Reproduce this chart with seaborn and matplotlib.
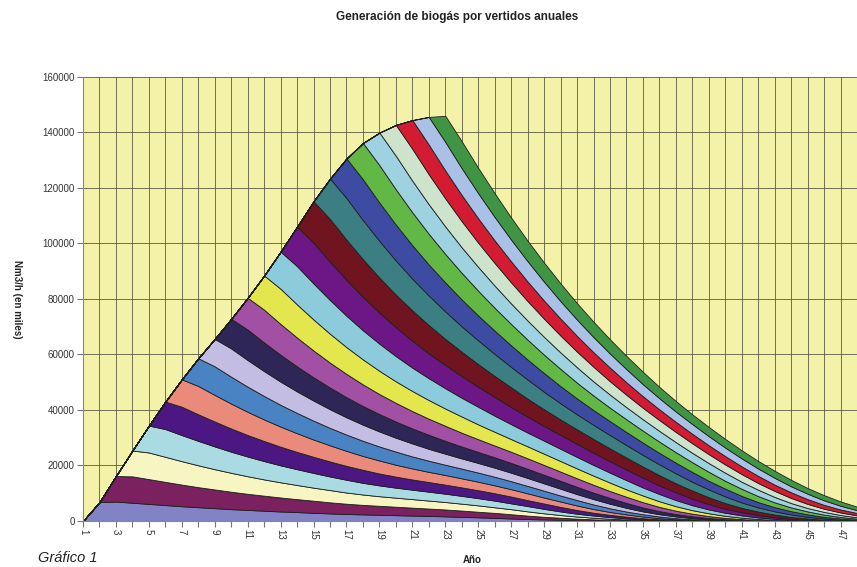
import numpy as np
import seaborn as sns
import matplotlib.pyplot as plt

# Years on the x axis (the reference is cut a little after year 47)
years = list(range(1, 49))

# Relative generation curve of one annual deposit, by age in years (age 1 = first year)
generation_profile = [0.97, 1.00, 0.94, 0.88, 0.82, 0.76, 0.71, 0.66, 0.61, 0.57, 0.53, 0.49,
                      0.46, 0.42, 0.39, 0.36, 0.34, 0.32, 0.30, 0.28, 0.26, 0.24, 0.21, 0.19,
                      0.16, 0.13, 0.10, 0.08, 0.06, 0.04, 0.03, 0.02, 0.01, 0, 0, 0, 0, 0,
                      0, 0, 0, 0, 0, 0, 0, 0, 0, 0]

# Size of each annual deposit (thousands of Nm3/h at the curve's peak), deposits 1..22
deposit_size = [7.0, 9.5, 9.6, 10.0, 10.2, 10.2, 10.3, 10.2, 11.0, 11.8, 12.7, 13.8,
                14.7, 15.4, 15.0, 14.7, 13.5, 12.1, 11.5, 10.7, 10.3, 9.7]

# One colour per deposit, bottom to top
layer_colors = ['#8282c6', '#7c2160', '#f7f5c2', '#aadbe3', '#4c1782', '#e98a7b',
                '#4a83c4', '#c4bde3', '#2d2657', '#a150a4', '#e4e64e', '#8ccbdb',
                '#6d1685', '#70151f', '#3b7f83', '#3d4ba3', '#63b745', '#9fd2e1',
                '#cde3cc', '#d31b31', '#a9c1e7', '#409545']

# Build the stacked table: deposit k starts giving gas the year after it is made
layers = []
for k, size in enumerate(deposit_size, start=1):
    row = []
    for t in years:
        age = t - k
        row.append(size * generation_profile[age - 1] * 1000 if age >= 1 else 0)
    layers.append(row)

sns.set_style("ticks")
plt.rcParams['font.family'] = ['Liberation Sans', 'DejaVu Sans']

fig = plt.figure(figsize=(8.57, 5.67), dpi=100)
ax = fig.add_axes([0.09685, 0.08113, 0.90315, 0.78307])
ax.set_facecolor('#f4f1a8')

ax.stackplot(years, layers, colors=layer_colors, edgecolor='#1e1e1e', linewidth=0.6, zorder=3)

# Excel-like grid: a line on every year, and every 20000
ax.set_xlim(1, 47.29)
ax.set_ylim(0, 160000)
ax.set_xticks(years)
ax.set_xticklabels([str(y) if y % 2 == 1 else '' for y in years], rotation=270, fontsize=7,
                   color='#333333')
ax.set_yticks(range(0, 160001, 20000))
ax.set_yticklabels([str(v) for v in range(0, 160001, 20000)], fontsize=7, color='#333333')
ax.grid(True, color='#5a5a44', linewidth=0.7, alpha=0.85, zorder=1)
ax.set_axisbelow(True)
ax.tick_params(axis='both', direction='out', length=4, width=0.8, color='#777777', pad=2)

for side in ['top', 'right']:
    ax.spines[side].set_visible(False)
for side in ['left', 'bottom']:
    ax.spines[side].set_color('#888888')
    ax.spines[side].set_linewidth(0.8)
    ax.spines[side].set_zorder(4)

ax.set_xlabel('')
ax.set_ylabel('')
fig.text(0.533, 0.970, 'Generación de biogás por vertidos anuales', ha='center', va='center',
         fontsize=8.5, fontweight='bold', color='#222222')
fig.text(0.020, 0.472, 'Nm3/h (en miles)', rotation=270, ha='center', va='center',
         fontsize=7, fontweight='bold', color='#222222')
fig.text(0.551, 0.012, 'Año', ha='center', va='center', fontsize=7, fontweight='bold',
         color='#222222')
fig.text(0.044, 0.004, 'Gráfico 1', ha='left', va='bottom', fontsize=10.5, style='italic',
         color='#222222')

fig.savefig('out.png', dpi=100)
